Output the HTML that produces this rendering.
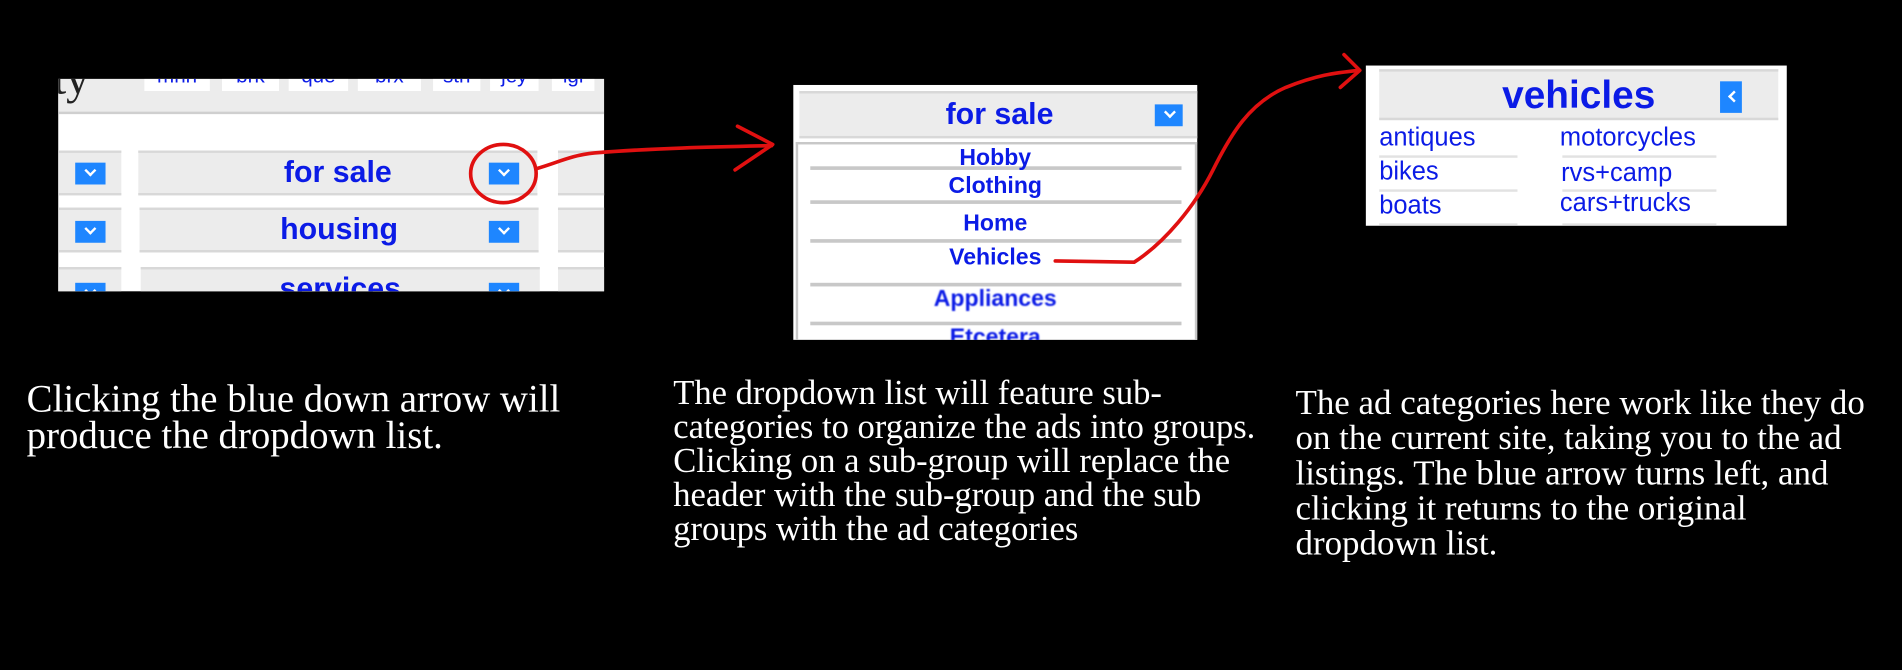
<!DOCTYPE html>
<html><head><meta charset="utf-8"><style>
html,body{margin:0;padding:0;background:#000;width:1902px;height:670px;overflow:hidden}
#w{position:absolute;left:0;top:0;width:1568px;height:552px;transform:scale(1.21301,1.21377);transform-origin:0 0;background:#000}
.a{position:absolute}
.s{font-family:"Liberation Sans",sans-serif;color:#0b1be6}
.btn{position:absolute;background:#1e86ff;width:25px;height:18px}
.btn:after{content:"";position:absolute;left:9px;top:3px;width:5px;height:5px;border-right:2px solid #fff;border-bottom:2px solid #fff;transform:rotate(45deg)}
.box{position:absolute;background:#ececec;border-top:2px solid #d8d8d8;border-bottom:2px solid #d8d8d8}
.cap{position:absolute;font-family:"Liberation Serif",serif;color:#fff;white-space:nowrap}
.ln{position:absolute;height:3px;background:#c8c8c8}
.it{position:absolute;left:0;width:100%;text-align:center;font-weight:bold;font-size:19px}
.c{position:absolute;font-size:21px}
.ul{position:absolute;height:2px;background:#e2e2e2}
</style></head><body><div id="w">
<!-- panel 1 -->
<div class="a" style="left:48px;top:65px;width:450px;height:175px;background:#fff;overflow:hidden">
 <div class="a" style="left:0;top:0;width:450px;height:27px;background:#ececec;border-bottom:2px solid #cfcfcf"></div>
 <div class="a" style="left:-4px;top:-22px;font-family:'Liberation Serif',serif;font-size:38px;color:#222">ty</div>
 <div class="a s" style="left:71px;top:0;width:54px;height:10px;background:#fff;overflow:hidden"><div style="position:absolute;top:-12px;width:100%;text-align:center;font-size:17px">mnn</div></div>
 <div class="a s" style="left:135px;top:0;width:47px;height:10px;background:#fff;overflow:hidden"><div style="position:absolute;top:-12px;width:100%;text-align:center;font-size:17px">brk</div></div>
 <div class="a s" style="left:190px;top:0;width:49px;height:10px;background:#fff;overflow:hidden"><div style="position:absolute;top:-12px;width:100%;text-align:center;font-size:17px">que</div></div>
 <div class="a s" style="left:247px;top:0;width:52px;height:10px;background:#fff;overflow:hidden"><div style="position:absolute;top:-12px;width:100%;text-align:center;font-size:17px">brx</div></div>
 <div class="a s" style="left:309px;top:0;width:39px;height:10px;background:#fff;overflow:hidden"><div style="position:absolute;top:-12px;width:100%;text-align:center;font-size:17px">stn</div></div>
 <div class="a s" style="left:356px;top:0;width:40px;height:10px;background:#fff;overflow:hidden"><div style="position:absolute;top:-12px;width:100%;text-align:center;font-size:17px">jey</div></div>
 <div class="a s" style="left:407px;top:0;width:35px;height:10px;background:#fff;overflow:hidden"><div style="position:absolute;top:-12px;width:100%;text-align:center;font-size:17px">lgi</div></div>
 <div class="box" style="left:0;top:59px;width:52px;height:33px"></div>
 <div class="btn" style="left:14px;top:69px"></div>
 <div class="box s" style="left:66px;top:59px;width:329px;height:33px;text-align:center;font-weight:bold;font-size:25px;line-height:33px">for sale</div>
 <div class="btn" style="left:355px;top:69px"></div>
 <div class="box" style="left:412px;top:59px;width:40px;height:33px"></div>
 <div class="box" style="left:0;top:106px;width:52px;height:33px"></div>
 <div class="btn" style="left:14px;top:117px"></div>
 <div class="box s" style="left:67px;top:106px;width:329px;height:33px;text-align:center;font-weight:bold;font-size:25px;line-height:33px">housing</div>
 <div class="btn" style="left:355px;top:117px"></div>
 <div class="box" style="left:412px;top:106px;width:40px;height:33px"></div>
 <div class="box" style="left:0;top:155px;width:52px;height:33px"></div>
 <div class="btn" style="left:14px;top:168px"></div>
 <div class="box s" style="left:68px;top:155px;width:329px;height:33px;text-align:center;font-weight:bold;font-size:25px;line-height:33px">services</div>
 <div class="btn" style="left:355px;top:168px"></div>
 <div class="box" style="left:412px;top:155px;width:40px;height:33px"></div>
</div>
<!-- panel 2 -->
<div class="a" style="left:654px;top:70px;width:333px;height:210px;background:#fff;overflow:hidden">
 <div class="box s" style="left:5px;top:5px;width:330px;height:35px;text-align:center;font-weight:bold;font-size:25px;line-height:35px">for sale</div>
 <div class="btn" style="left:298px;top:16px;width:23px"></div>
 <div class="a" style="left:2px;top:47px;width:327px;height:165px;border:2px solid #c8c8c8;border-bottom:none"></div>
 <div class="ln" style="left:14px;top:67px;width:306px"></div>
 <div class="ln" style="left:14px;top:95px;width:306px"></div>
 <div class="ln" style="left:14px;top:127px;width:306px"></div>
 <div class="ln" style="left:14px;top:163px;width:306px"></div>
 <div class="ln" style="left:14px;top:195px;width:306px"></div>
 <div class="s it" style="top:50px">Hobby</div>
 <div class="s it" style="top:73px">Clothing</div>
 <div class="s it" style="top:104px">Home</div>
 <div class="s it" style="top:132px">Vehicles</div>
 <div class="s it" style="top:166px;filter:blur(0.6px)">Appliances</div>
 <div class="s it" style="top:198px;filter:blur(0.6px)">Etcetera</div>
</div>
<!-- panel 3 -->
<div class="a s" style="left:1126px;top:54px;width:347px;height:132px;background:#fff;overflow:hidden">
 <div class="box" style="left:11px;top:3px;width:329px;height:38px;text-align:center;font-weight:bold;font-size:32px;line-height:38px;color:#0b1be6">vehicles</div>
 <div class="a" style="left:292px;top:13px;width:18px;height:26px;background:#1e86ff"></div>
 <div class="a" style="left:300px;top:22px;width:5px;height:5px;border-left:2px solid #fff;border-bottom:2px solid #fff;transform:rotate(45deg)"></div>
 <div class="c" style="left:11px;top:48px">antiques</div>
 <div class="c" style="left:11px;top:76px">bikes</div>
 <div class="c" style="left:11px;top:104px">boats</div>
 <div class="c" style="left:160px;top:48px">motorcycles</div>
 <div class="c" style="left:161px;top:77px">rvs+camp</div>
 <div class="c" style="left:160px;top:102px">cars+trucks</div>
 <div class="ul" style="left:11px;top:74px;width:114px"></div>
 <div class="ul" style="left:11px;top:102px;width:114px"></div>
 <div class="ul" style="left:11px;top:130px;width:114px"></div>
 <div class="ul" style="left:162px;top:74px;width:127px"></div>
 <div class="ul" style="left:162px;top:102px;width:127px"></div>
 <div class="ul" style="left:162px;top:130px;width:127px"></div>
</div>
<!-- red annotations -->
<svg class="a" style="left:0;top:0" width="1568" height="552">
 <g fill="none" stroke="#e01010" stroke-width="3" stroke-linecap="round" stroke-linejoin="round">
  <ellipse cx="415" cy="143" rx="27" ry="24"/>
  <path d="M442 139 C460 134 470 128 490 126 C540 122 590 121 636 120"/>
  <path d="M608 104 L637 119 L606 140"/>
  <path d="M870 215 L935 216 C960 200 985 170 1000 140 C1015 110 1030 85 1060 72 C1085 62 1100 60 1120 58"/>
  <path d="M1108 45 L1121 58 L1105 72"/>
 </g>
</svg>
<!-- captions -->
<div class="cap" style="left:22px;top:313px;font-size:32px;line-height:30px">Clicking the blue down arrow will<br>produce the dropdown list.</div>
<div class="cap" style="left:555px;top:311px;font-size:28.5px;line-height:28px">The dropdown list will feature sub-<br>categories to organize the ads into groups.<br>Clicking on a sub-group will replace the<br>header with the sub-group and the sub<br>groups with the ad categories</div>
<div class="cap" style="left:1068px;top:318px;font-size:28.8px;line-height:29px">The ad categories here work like they do<br>on the current site, taking you to the ad<br>listings. The blue arrow turns left, and<br>clicking it returns to the original<br>dropdown list.</div>
</div></body></html>
